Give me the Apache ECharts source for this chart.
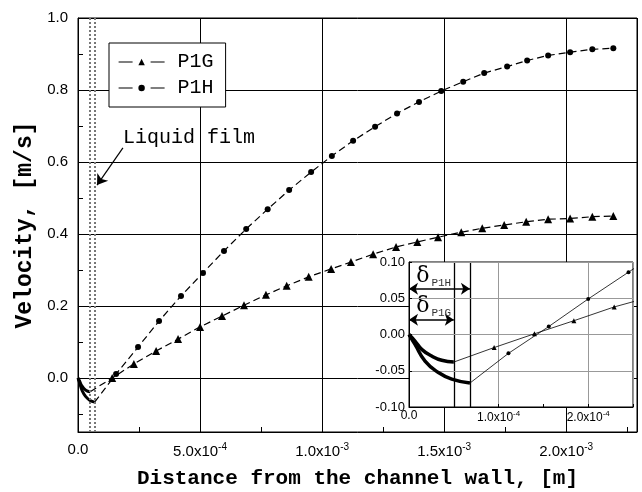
<!DOCTYPE html>
<html>
<head>
<meta charset="utf-8">
<script src="https://cdn.jsdelivr.net/npm/echarts@6/dist/echarts.min.js"></script>
<style>
html,body{margin:0;padding:0;background:#fff}
#chart{width:642px;height:492px}
</style>
</head>
<body>
<div id="chart"></div>
<script>
// film thickness (x where the liquid film ends)
var deltaFilm = [5.0e-5, 6.8e-5]; // P1G, P1H

// velocity inside the liquid film (thick curves)
var filmXG = [0, 0.67e-5, 1.42e-5, 2.53e-5, 3.65e-5, 5.0e-5];
var filmYG = [0, -0.009, -0.0205, -0.0297, -0.0356, -0.038];
var filmXH = [0, 0.67e-5, 1.79e-5, 3.28e-5, 4.77e-5, 6.8e-5];
var filmYH = [0, -0.0137, -0.0366, -0.0525, -0.0616, -0.067];

// main chart, gas phase
var xG = [5.0e-5, 1.40e-4, 2.29e-4, 3.20e-4, 4.10e-4, 5.00e-4, 5.90e-4, 6.80e-4, 7.70e-4, 8.55e-4, 9.45e-4, 1.037e-3, 1.118e-3,
          1.209e-3, 1.303e-3, 1.390e-3, 1.475e-3, 1.570e-3, 1.656e-3, 1.746e-3, 1.836e-3, 1.926e-3, 2.016e-3, 2.107e-3, 2.193e-3];
var yG = [-0.038, 0.0, 0.039, 0.075, 0.108, 0.142, 0.172, 0.202, 0.231, 0.256, 0.281, 0.303, 0.322,
          0.344, 0.364, 0.378, 0.391, 0.405, 0.416, 0.425, 0.434, 0.441, 0.443, 0.448, 0.450];
var xH = [6.8e-5, 1.56e-4, 2.46e-4, 3.32e-4, 4.22e-4, 5.12e-4, 5.98e-4, 6.89e-4, 7.77e-4, 8.65e-4, 9.55e-4, 1.040e-3, 1.127e-3,
          1.217e-3, 1.307e-3, 1.397e-3, 1.488e-3, 1.578e-3, 1.664e-3, 1.758e-3, 1.840e-3, 1.926e-3, 2.016e-3, 2.107e-3, 2.193e-3];
var yH = [-0.067, 0.011, 0.086, 0.158, 0.228, 0.292, 0.353, 0.414, 0.469, 0.522, 0.572, 0.617, 0.659,
          0.698, 0.735, 0.767, 0.797, 0.823, 0.847, 0.865, 0.882, 0.896, 0.905, 0.913, 0.916];

// inset (zoom near the wall)
var insetXG = [5.0e-5, 0.95e-4, 1.40e-4, 1.84e-4, 2.29e-4, 2.73e-4];
var insetYG = [-0.038, -0.018, 0.001, 0.019, 0.038, 0.053];
var insetXH = [6.8e-5, 1.11e-4, 1.56e-4, 2.00e-4, 2.45e-4, 2.90e-4];
var insetYH = [-0.067, -0.026, 0.011, 0.049, 0.086, 0.123];

// tick labels
var mainYLabels = [0, 0.2, 0.4, 0.6, 0.8, 1.0];
var mainYMinor = [-0.1, 0.1, 0.3, 0.5, 0.7, 0.9];

function zip(xs, ys) {
    var out = [];
    for (var i = 0; i < xs.length; i++) out.push([xs[i], ys[i]]);
    return out;
}
// first point is the film end: no marker there
function withMarkers(xs, ys) {
    var d = zip(xs, ys);
    d[0] = {value: d[0], symbol: 'none'};
    return d;
}
function sciLabel(v) {
    if (Math.abs(v) < 1e-12) return '0.0';
    var e = Math.floor(Math.log10(v) + 1e-9);
    var m = v / Math.pow(10, e);
    return m.toFixed(1) + 'x10{sup|' + e + '}';
}
function stepLabel(step) {
    return function (v) {
        var k = v / step;
        if (Math.abs(k - Math.round(k)) > 1e-6) return '';
        return sciLabel(v);
    };
}

var supRich = {sup: {fontSize: 10, fontFamily: 'Liberation Sans', color: '#000', padding: [0, 0, 9, 0]}};
var mono = 'Liberation Mono';
// transparent end marker ('none' drops the whole markLine here)
var blank = 'image://data:image/gif;base64,R0lGODlhAQABAIAAAAAAAP///yH5BAEAAAAALAAAAAABAAEAAAIBRAA7';

var chart = echarts.init(document.getElementById('chart'));
var option = {
    animation: false,
    backgroundColor: '#fff',
    grid: [
        {left: 78, top: 18, right: 5, bottom: 60, show: true, borderColor: '#000', borderWidth: 1, outerBoundsMode: 'none'},
        //inset
        {left: 409, top: 262, right: 9, bottom: 85, show: true, backgroundColor: '#fff', borderColor: '#000', borderWidth: 1, z: 5, outerBoundsMode: 'none'}
    ],
    legend: {
        data: ['P1G', 'P1H'],
        left: 109,
        top: 43,
        orient: 'vertical',
        padding: [9, 12, 9, 9],
        itemGap: 6,
        itemWidth: 46,
        itemHeight: 8,
        backgroundColor: '#fff',
        borderColor: '#000',
        borderWidth: 1,
        lineStyle: {type: [14, 18], width: 1.2},
        textStyle: {fontFamily: mono, fontSize: 20, color: '#000', padding: [0, 0, 0, 8]}
    },
    xAxis: [{
        gridIndex: 0,
        type: 'value',
        min: 0,
        max: 0.00229,
        interval: 0.0005,
        name: 'Distance from the channel wall, [m]',
        nameLocation: 'middle',
        nameGap: 36,
        nameTextStyle: {fontFamily: mono, fontWeight: 'bold', fontSize: 21, color: '#000'},
        axisLine: {onZero: false, lineStyle: {color: '#000'}},
        axisTick: {inside: true, length: 5, lineStyle: {color: '#000'}},
        minorTick: {show: true, splitNumber: 2, length: 5, lineStyle: {color: '#000'}},
        axisLabel: {formatter: stepLabel(0.0005), fontFamily: 'Liberation Sans', fontSize: 15, color: '#000', margin: 10, rich: supRich},
        splitLine: {show: true, lineStyle: {color: '#000', width: 1}}
    }, {
        gridIndex: 1,
        type: 'value',
        min: 0,
        max: 0.00025,
        interval: 0.0001,
        z: 6,
        axisLine: {onZero: false, lineStyle: {color: '#000'}},
        axisTick: {inside: true, length: 3, lineStyle: {color: '#000'}},
        minorTick: {show: true, splitNumber: 2, length: 3, lineStyle: {color: '#000'}},
        axisLabel: {formatter: stepLabel(0.0001), fontFamily: 'Liberation Sans', fontSize: 12, color: '#000', margin: 3,
            rich: {sup: {fontSize: 8, fontFamily: 'Liberation Sans', color: '#000', padding: [0, 0, 7, 0]}}},
        splitLine: {show: true, lineStyle: {color: '#999', width: 1}}
    }],
    yAxis: [{
        gridIndex: 0,
        type: 'value',
        min: -0.15,
        max: 1.0,
        name: 'Velocity, [m/s]',
        nameLocation: 'middle',
        nameGap: 41,
        nameTextStyle: {fontFamily: mono, fontWeight: 'bold', fontSize: 23, color: '#000'},
        axisLine: {onZero: false, lineStyle: {color: '#000'}},
        axisTick: {inside: true, length: 5, customValues: mainYLabels, lineStyle: {color: '#000'}},
        axisLabel: {customValues: mainYLabels, formatter: function (v) { return v.toFixed(1); },
            fontFamily: 'Liberation Sans', fontSize: 15, color: '#000', margin: 10},
        splitLine: {show: true, lineStyle: {color: '#000', width: 1}}
    }, {
        // minor ticks only
        gridIndex: 0,
        type: 'value',
        position: 'left',
        min: -0.15,
        max: 1.0,
        axisLine: {show: false, onZero: false},
        axisTick: {inside: true, length: 5, customValues: mainYMinor, lineStyle: {color: '#000'}},
        axisLabel: {show: false},
        splitLine: {show: false}
    }, {
        gridIndex: 1,
        type: 'value',
        min: -0.1,
        max: 0.1,
        interval: 0.05,
        z: 6,
        axisLine: {onZero: false, lineStyle: {color: '#000'}},
        axisTick: {inside: true, length: 3, lineStyle: {color: '#000'}},
        axisLabel: {formatter: function (v) { return v.toFixed(2); }, fontFamily: 'Liberation Sans', fontSize: 13, color: '#000', margin: 4},
        splitLine: {show: true, lineStyle: {color: '#999', width: 1}}
    }],
    series: [{
        name: 'P1G',
        type: 'line',
        xAxisIndex: 0, yAxisIndex: 0,
        data: withMarkers(xG, yG),
        symbol: 'triangle',
        symbolSize: 8,
        itemStyle: {color: '#000'},
        lineStyle: {color: '#000', width: 1.2, type: [7, 4]},
        markLine: {
            silent: true, symbol: [blank, blank], symbolSize: 1, label: {show: false},
            lineStyle: {color: '#777', width: 2, type: 'dotted'},
            data: [
                [{coord: [deltaFilm[0], -0.15]}, {coord: [deltaFilm[0], 1.0]}],
                [{coord: [deltaFilm[1], -0.15]}, {coord: [deltaFilm[1], 1.0]}]
            ]
        },
        markPoint: {
            silent: true, symbol: 'circle', symbolSize: 0,
            label: {show: true, position: 'right', distance: 0, formatter: 'Liquid film', fontFamily: mono, fontSize: 20, color: '#000'},
            data: [{coord: [1.84e-4, 0.667]}]
        }
    }, {
        name: 'P1H',
        type: 'line',
        xAxisIndex: 0, yAxisIndex: 0,
        data: withMarkers(xH, yH),
        symbol: 'circle',
        symbolSize: 6,
        itemStyle: {color: '#000'},
        lineStyle: {color: '#000', width: 1.2, type: [7, 4]},
        markLine: {
            silent: true, symbol: [blank, 'arrow'], symbolSize: 10, label: {show: false},
            lineStyle: {color: '#000', width: 1.2, type: 'solid'},
            data: [[{coord: [1.84e-4, 0.639]}, {coord: [7.8e-5, 0.536]}]]
        }
    }, {
        name: 'P1G film',
        type: 'line',
        xAxisIndex: 0, yAxisIndex: 0,
        data: zip(filmXG, filmYG),
        smooth: true, symbol: 'none',
        lineStyle: {color: '#000', width: 3}
    }, {
        name: 'P1H film',
        type: 'line',
        xAxisIndex: 0, yAxisIndex: 0,
        data: zip(filmXH, filmYH),
        smooth: true, symbol: 'none',
        lineStyle: {color: '#000', width: 3}
    },
    // inset
    {
        name: 'P1G inset',
        type: 'line',
        xAxisIndex: 1, yAxisIndex: 2,
        z: 7,
        data: withMarkers(insetXG, insetYG),
        symbol: 'triangle',
        symbolSize: 5,
        itemStyle: {color: '#000'},
        lineStyle: {color: '#000', width: 0.8},
        markLine: {
            silent: true, symbol: [blank, blank], symbolSize: 1, label: {show: false},
            lineStyle: {color: '#000', width: 1.3, type: 'solid'},
            data: [
                [{coord: [deltaFilm[0], -0.1]}, {coord: [deltaFilm[0], 0.1]}],
                [{coord: [deltaFilm[1], -0.1]}, {coord: [deltaFilm[1], 0.1]}]
            ]
        },
        markPoint: {
            silent: true, symbol: 'circle', symbolSize: 0,
            label: {
                show: true, position: 'right', distance: 0, color: '#000',
                rich: {
                    d: {fontFamily: 'DejaVu Serif', fontSize: 22, color: '#000'},
                    s: {fontFamily: mono, fontSize: 11, color: '#333', padding: [14, 0, 0, 2]}
                }
            },
            data: [
                {coord: [0.8e-5, 0.080], label: {formatter: '{d|δ}{s|P1H}'}},
                {coord: [0.8e-5, 0.039], label: {formatter: '{d|δ}{s|P1G}'}}
            ]
        }
    }, {
        name: 'P1H inset',
        type: 'line',
        xAxisIndex: 1, yAxisIndex: 2,
        z: 7,
        data: withMarkers(insetXH, insetYH),
        symbol: 'circle',
        symbolSize: 4,
        itemStyle: {color: '#000'},
        lineStyle: {color: '#000', width: 0.8},
        markLine: {
            silent: true, symbol: ['arrow', 'arrow'], symbolSize: 9, label: {show: false},
            lineStyle: {color: '#000', width: 1.5, type: 'solid'},
            data: [
                [{coord: [0, 0.063]}, {coord: [deltaFilm[1], 0.063]}],
                [{coord: [0, 0.0205]}, {coord: [deltaFilm[0], 0.0205]}]
            ]
        }
    }, {
        name: 'P1G film inset',
        type: 'line',
        xAxisIndex: 1, yAxisIndex: 2,
        z: 7,
        data: zip(filmXG, filmYG),
        smooth: true, symbol: 'none',
        lineStyle: {color: '#000', width: 3.5}
    }, {
        name: 'P1H film inset',
        type: 'line',
        xAxisIndex: 1, yAxisIndex: 2,
        z: 7,
        data: zip(filmXH, filmYH),
        smooth: true, symbol: 'none',
        lineStyle: {color: '#000', width: 3.5}
    }]
};
chart.setOption(option);
</script>
</body>
</html>
